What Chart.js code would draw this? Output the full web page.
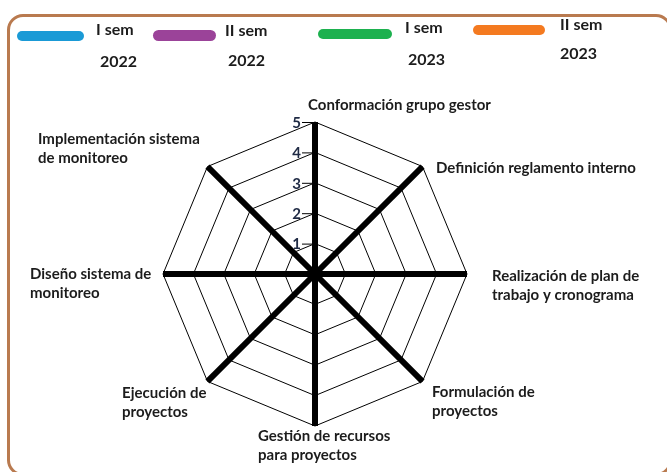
<!DOCTYPE html>
<html>
<head>
<meta charset="utf-8">
<script src="https://cdn.jsdelivr.net/npm/chart.js@4"></script>
<style>
  body { margin: 0; background: #fff; }
  #wrap { position: relative; width: 667px; height: 472px; overflow: hidden; }
  #frame { position: absolute; left: 7px; top: 14px; width: 665px; height: 462px;
           box-sizing: border-box; border: 3.5px solid #b97a4f; border-radius: 16px; }
  canvas { position: absolute; left: 0; top: 0; }
</style>
</head>
<body>
<div id="wrap">
  <div id="frame"></div>
  <canvas id="myChart" width="667" height="472"></canvas>
</div>
<script>
const categories = [
    ['Conformación grupo gestor'],
    ['Definición reglamento interno'],
    ['Realización de plan de', 'trabajo y cronograma'],
    ['Formulación de', 'proyectos'],
    ['Gestión de recursos', 'para proyectos'],
    ['Ejecución de', 'proyectos'],
    ['Diseño sistema de', 'monitoreo'],
    ['Implementación sistema', 'de monitoreo']
];
const seriesNames = [['I sem', '2022'], ['II sem', '2022'], ['I sem', '2023'], ['II sem', '2023']];
const iSem2022 = [0, 0, 0, 0, 0, 0, 0, 0];
const iiSem2022 = [0, 0, 0, 0, 0, 0, 0, 0];
const iSem2023 = [0, 0, 0, 0, 0, 0, 0, 0];
const iiSem2023 = [0, 0, 0, 0, 0, 0, 0, 0];
const tickValues = [1, 2, 3, 4, 5];

const colors = ['#1a9ad6', '#9b4399', '#1db14f', '#f47a20'];

// label placement next to each spoke end (dx, first baseline dy)
const labelOffsets = [[-7, -12], [13.5, 6.5], [25, 7], [9.5, 15.5], [-57, 15], [-85.5, 16.5], [-133, 5], [-169.5, -22.5]];
// legend: swatch [x, y, w, h], text [x1, base1, x2, base2]
const legendBoxes = [[17, 31, 67, 10], [153, 30, 63, 11], [318, 29, 74, 10], [473, 25, 72, 10]];
const legendText = [[96, 35, 100, 67], [225, 36, 228, 66], [405, 33, 408, 65], [560, 30, 560, 59]];

const drawText = {
    id: 'drawText',
    afterDraw(chart) {
        const ctx = chart.ctx;
        const r = chart.scales.r;
        const outer = r.getDistanceFromCenterForValue(r.max);
        ctx.save();

        // spoke labels
        ctx.font = 'bold 15px Lato';
        ctx.fillStyle = '#1c1c1c';
        ctx.textAlign = 'left';
        ctx.textBaseline = 'alphabetic';
        chart.data.labels.forEach((lines, i) => {
            const p = r.getPointPosition(i, outer);
            lines.forEach((t, j) => {
                ctx.fillText(t, p.x + labelOffsets[i][0], p.y + labelOffsets[i][1] + j * 19);
            });
        });

        // tick numbers on the left of the vertical spoke
        ctx.font = 'bold 15px Lato';
        ctx.fillStyle = '#1f2a44';
        ctx.textAlign = 'right';
        ctx.textBaseline = 'middle';
        ctx.strokeStyle = '#000';
        ctx.lineWidth = 1;
        tickValues.forEach(v => {
            const y = r.yCenter - r.getDistanceFromCenterForValue(v);
            ctx.fillText(String(v), r.xCenter - 14, y + 1);
            ctx.beginPath();
            ctx.moveTo(r.xCenter - 13, y + 0.5);
            ctx.lineTo(r.xCenter, y + 0.5);
            ctx.stroke();
        });

        // legend
        chart.data.datasets.forEach((ds, i) => {
            const b = legendBoxes[i];
            ctx.fillStyle = ds.borderColor;
            ctx.beginPath();
            ctx.roundRect(b[0], b[1], b[2], b[3], b[3] / 2);
            ctx.fill();
            const t = legendText[i];
            ctx.fillStyle = '#1c1c1c';
            ctx.textAlign = 'left';
            ctx.textBaseline = 'alphabetic';
            ctx.font = 'bold 16px Lato';
            ctx.fillText(seriesNames[i][0], t[0], t[1]);
            ctx.font = 'bold 16px Lato';
            ctx.fillText(seriesNames[i][1], t[2], t[3]);
        });
        ctx.restore();
    }
};

const seriesData = [iSem2022, iiSem2022, iSem2023, iiSem2023];

function displayRadar() {
    new Chart(document.getElementById('myChart'), {
        type: 'radar',
        data: {
            labels: categories,
            datasets: seriesData.map((d, i) => ({
                label: seriesNames[i].join(' '),
                data: d,
                borderColor: colors[i],
                backgroundColor: 'transparent',
                borderWidth: 3,
                pointRadius: 0
            }))
        },
        options: {
            responsive: false,
            animation: false,
            layout: { padding: { left: 163, right: 200, top: 122, bottom: 46 } },
            plugins: { legend: { display: false }, tooltip: { enabled: false } },
            scales: {
                r: {
                    min: 0,
                    max: 5,
                    ticks: { stepSize: 1, display: false },
                    pointLabels: { display: false },
                    grid: { color: '#000', lineWidth: 1 },
                    angleLines: { color: '#000', lineWidth: 6 }
                }
            }
        },
        plugins: [drawText]
    });
}

document.fonts.load('bold 15px Lato').then(displayRadar, displayRadar);
</script>
</body>
</html>
